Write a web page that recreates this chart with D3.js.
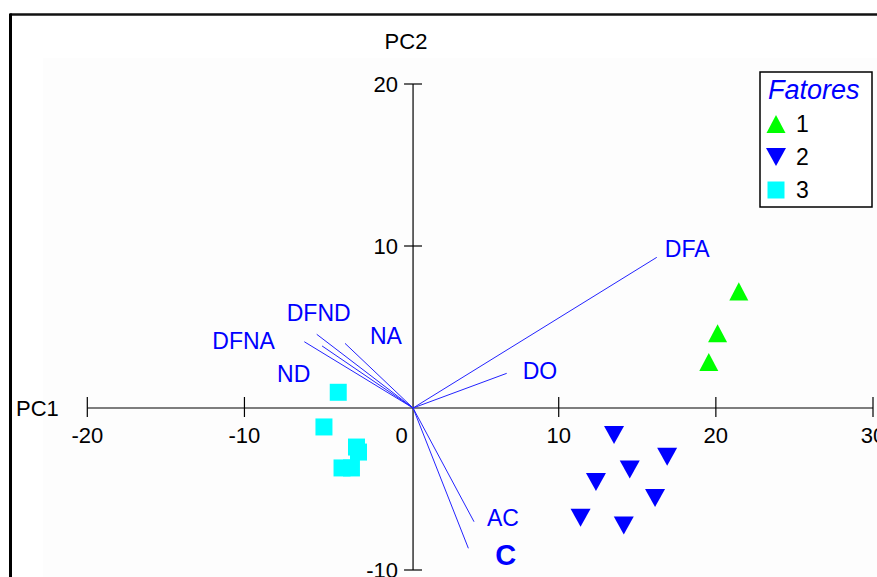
<!DOCTYPE html>
<html>
<head>
<meta charset="utf-8">
<script src="https://cdn.jsdelivr.net/npm/d3@7"></script>
<style>
  body { margin: 0; background: #fff; }
  svg { display: block; font-family: Arial, "Liberation Sans", sans-serif; }
</style>
</head>
<body>
<div class="chart"></div>
<script>
// scores by group (PC1, PC2)
const group1 = [[21.46, 7.20], [20.11, 4.61], [19.55, 2.84]];
const group2 = [[13.52, -1.67], [16.90, -3.01], [14.52, -3.80], [12.37, -4.57],
                [16.13, -5.56], [11.39, -6.78], [14.14, -7.25]];
const group3 = [[-4.03, 0.97], [-4.94, -1.17], [-2.87, -2.41], [-2.74, -2.72],
                [-3.79, -3.70], [-3.19, -3.70]];

// loading vectors (end points, relative to the axes crossing)
const variables = ['DFA', 'DO', 'AC', 'C', 'DFNA', 'DFND', 'ND', 'NA'];
const vecPC1 = [15.51, 5.96, 3.88, 3.52, -6.92, -6.13, -5.79, -4.33];
const vecPC2 = [9.30, 2.14, -7.02, -8.66, 4.09, 4.55, 3.83, 3.99];

const xTicks = [-20, -10, 0, 10, 20, 30];
const yTicks = [20, 10, -10];
const legendLabels = ['1', '2', '3'];
const legendTitle = 'Fatores';

const width = 877, height = 577;
const axisCross = 0.73; // PC2 axis sits a little right of PC1 = 0

const svg = d3.select('.chart')
  .append('svg')
  .attr('width', width)
  .attr('height', height);

const x = d3.scaleLinear().domain([-20, 30]).range([87.3, 873]);
const y = d3.scaleLinear().domain([-10, 20]).range([570, 84]);
const x0 = x(axisCross), y0 = y(0);

// frame and faint plot background
svg.append('rect').attr('x', 43).attr('y', 58).attr('width', width - 43).attr('height', height - 58)
  .attr('fill', '#fdfdfd');
svg.append('line').attr('x1', 10).attr('x2', width).attr('y1', 14.5).attr('y2', 14.5)
  .attr('stroke', '#111').attr('stroke-width', 2.5);
svg.append('line').attr('x1', 10.5).attr('x2', 10.5).attr('y1', 13.5).attr('y2', height)
  .attr('stroke', '#000').attr('stroke-width', 3);

// PC1 axis
svg.append('line').attr('x1', x(-20)).attr('x2', x(30)).attr('y1', y0).attr('y2', y0)
  .attr('stroke', '#000').attr('stroke-width', 1.2);
svg.selectAll('.xtick')
  .data(xTicks.filter(d => d !== 0))
  .enter()
  .append('line')
  .attr('x1', d => x(d)).attr('x2', d => x(d))
  .attr('y1', y0 - 11).attr('y2', y0 + 9)
  .attr('stroke', '#000').attr('stroke-width', 1.2);
svg.selectAll('.xlabel')
  .data(xTicks)
  .enter()
  .append('text')
  .attr('x', d => x(d))
  .attr('y', 443)
  .attr('text-anchor', 'middle')
  .style('font-size', '22px')
  .text(d => d);
svg.append('text').attr('x', 16).attr('y', 416).style('font-size', '22px').text('PC1');

// PC2 axis
svg.append('line').attr('x1', x0).attr('x2', x0).attr('y1', y(20)).attr('y2', y(-10))
  .attr('stroke', '#000').attr('stroke-width', 1.2);
svg.selectAll('.ytick')
  .data(yTicks)
  .enter()
  .append('line')
  .attr('x1', x0 - 9).attr('x2', x0 + 9)
  .attr('y1', d => y(d)).attr('y2', d => y(d))
  .attr('stroke', '#000').attr('stroke-width', 1.2);
svg.selectAll('.ylabel')
  .data(yTicks)
  .enter()
  .append('text')
  .attr('x', 398)
  .attr('y', d => y(d) + 8)
  .attr('text-anchor', 'end')
  .style('font-size', '22px')
  .text(d => d);
svg.append('text').attr('x', 406).attr('y', 49).attr('text-anchor', 'middle')
  .style('font-size', '22px').text('PC2');

// loading vectors
const vectors = variables.map((name, i) => ({ name, px: vecPC1[i], py: vecPC2[i] }));
const labelOffset = {
  DFA: [8, 0], DO: [16, 6], AC: [13, 4], C: [27, 17],
  DFNA: [-92, 7], DFND: [-30, -13], ND: [-45, 36], NA: [25, 1]
};

svg.selectAll('.vec')
  .data(vectors)
  .enter()
  .append('line')
  .attr('x1', x0).attr('y1', y0)
  .attr('x2', d => x(axisCross + d.px))
  .attr('y2', d => y(d.py))
  .attr('stroke', '#2323ff')
  .attr('stroke-width', 1);

svg.selectAll('.veclabel')
  .data(vectors)
  .enter()
  .append('text')
  .attr('x', d => x(axisCross + d.px) + labelOffset[d.name][0])
  .attr('y', d => y(d.py) + labelOffset[d.name][1])
  .attr('fill', '#0000ff')
  .style('font-size', d => d.name === 'C' ? '29px' : '23px')
  .style('font-weight', d => d.name === 'C' ? 'bold' : 'normal')
  .text(d => d.name);

// marker shapes
function triUp(s) { const h = s * 0.95; return `M0,${-h / 2}L${s / 2},${h / 2}L${-s / 2},${h / 2}Z`; }
function triDown(s) { const h = s * 0.9; return `M${-s / 2},${-h / 2}L${s / 2},${-h / 2}L0,${h / 2}Z`; }
function square(s) { return `M${-s / 2},${-s / 2}h${s}v${s}h${-s}Z`; }

const groups = [
  { data: group1, shape: triUp(19), color: '#00ff00' },
  { data: group2, shape: triDown(20), color: '#0000ff' },
  { data: group3, shape: square(17), color: '#00ffff' }
];

groups.forEach(g => {
  svg.append('g')
    .selectAll('path')
    .data(g.data)
    .enter()
    .append('path')
    .attr('transform', d => `translate(${x(d[0])},${y(d[1])})`)
    .attr('d', g.shape)
    .attr('fill', g.color);
});

// legend
const legend = svg.append('g').attr('transform', 'translate(760,72)');
legend.append('rect').attr('x', 0).attr('y', 0).attr('width', 112).attr('height', 135)
  .attr('fill', '#fff').attr('stroke', '#000').attr('stroke-width', 1.5);
legend.append('text').attr('x', 8).attr('y', 27)
  .attr('fill', '#0000ff').style('font-size', '27px').style('font-style', 'italic')
  .text(legendTitle);
legend.selectAll('.item')
  .data(legendLabels)
  .enter()
  .append('path')
  .attr('transform', (d, i) => `translate(16,${52 + i * 33})`)
  .attr('d', (d, i) => groups[i].shape)
  .attr('fill', (d, i) => groups[i].color);
legend.selectAll('.itemlabel')
  .data(legendLabels)
  .enter()
  .append('text')
  .attr('x', 36)
  .attr('y', (d, i) => 60 + i * 33)
  .style('font-size', '23px')
  .text(d => d);
</script>
</body>
</html>
